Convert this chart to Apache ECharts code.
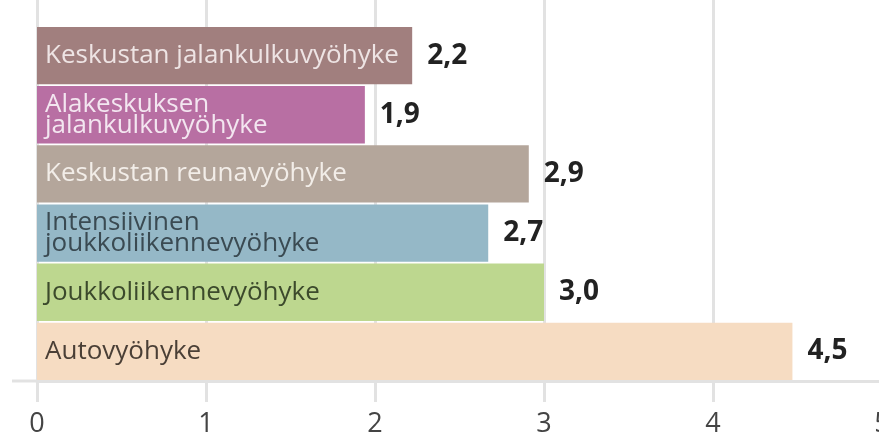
<!DOCTYPE html>
<html>
<head>
<meta charset="utf-8">
<script src="https://cdn.jsdelivr.net/npm/echarts@6/dist/echarts.min.js"></script>
<style>
html, body { margin: 0; padding: 0; background: #fff; }
#main { width: 879px; height: 436px; }
</style>
</head>
<body>
<div id="main"></div>
<script>
const categories = [
    "Keskustan jalankulkuvyöhyke",
    "Alakeskuksen\njalankulkuvyöhyke",
    "Keskustan reunavyöhyke",
    "Intensiivinen\njoukkoliikennevyöhyke",
    "Joukkoliikennevyöhyke",
    "Autovyöhyke"
];
const values = [2.22, 1.94, 2.91, 2.67, 3.0, 4.47];
const barColors = ["#a17f7e", "#b86fa3", "#b4a69b", "#95b8c7", "#bdd78f", "#f6dcc2"];
const textColors = ["#eee4e4", "#f3e6f0", "#f2ede8", "#3a4a52", "#3c4a2c", "#4a3f36"];
const xTicks = [0, 1, 2, 3, 4, 5];

const chart = echarts.init(document.getElementById("main"));
const font = "'Open Sans', 'DejaVu Sans', sans-serif";
const gridColor = "#e2e2e2";

const option = {
    animation: false,
    grid: [
        { left: 37, right: -3, top: 26, bottom: 55, outerBoundsMode: "none", containLabel: false },
        { left: 37, right: -3, top: 0, bottom: 55, outerBoundsMode: "none", containLabel: false }
    ],
    xAxis: [
        {
            gridIndex: 0, type: "value", min: 0, max: 5, interval: 1,
            axisLine: { show: false }, axisTick: { show: false },
            axisLabel: { show: false }, splitLine: { show: false }
        },
        {
            gridIndex: 1, type: "value", min: 0, max: 5, interval: 1,
            axisLine: { show: true, lineStyle: { color: gridColor, width: 3 } },
            axisTick: { show: true, length: 21, lineStyle: { color: gridColor, width: 3 } },
            axisLabel: {
                margin: 30, fontSize: 27, color: "#444", fontFamily: font,
                formatter: v => String(xTicks[v] !== undefined ? xTicks[v] : v)
            },
            splitLine: { show: true, lineStyle: { color: gridColor, width: 3 } }
        }
    ],
    yAxis: [
        {
            gridIndex: 0, type: "category", data: categories, inverse: true,
            axisLine: { show: false }, axisTick: { show: false },
            axisLabel: {
                inside: true, margin: 8, fontSize: 26, lineHeight: 21,
                fontFamily: font,
                color: (v, i) => textColors[i]
            },
            z: 10
        },
        { gridIndex: 1, type: "value", show: false }
    ],
    series: [
        {
            type: "bar",
            xAxisIndex: 0, yAxisIndex: 0,
            barCategoryGap: "3%",
            data: values.map((v, i) => ({ value: v, itemStyle: { color: barColors[i] } })),
            label: {
                show: true, position: "right", distance: 15,
                fontSize: 28, fontWeight: "bold", color: "#222", fontFamily: font,
                formatter: p => p.value.toFixed(1).replace(".", ",")
            }
        }
    ]
};

chart.setOption(option);

// short stub of the baseline that runs left of the zero line
const x0 = chart.convertToPixel({ xAxisIndex: 1 }, 0);
const yBase = chart.convertToPixel({ yAxisIndex: 1 }, 0);
chart.setOption({
    graphic: [{
        type: "line",
        shape: { x1: 12, y1: yBase, x2: x0, y2: yBase },
        style: { stroke: gridColor, lineWidth: 3 }
    }]
});
</script>
</body>
</html>
